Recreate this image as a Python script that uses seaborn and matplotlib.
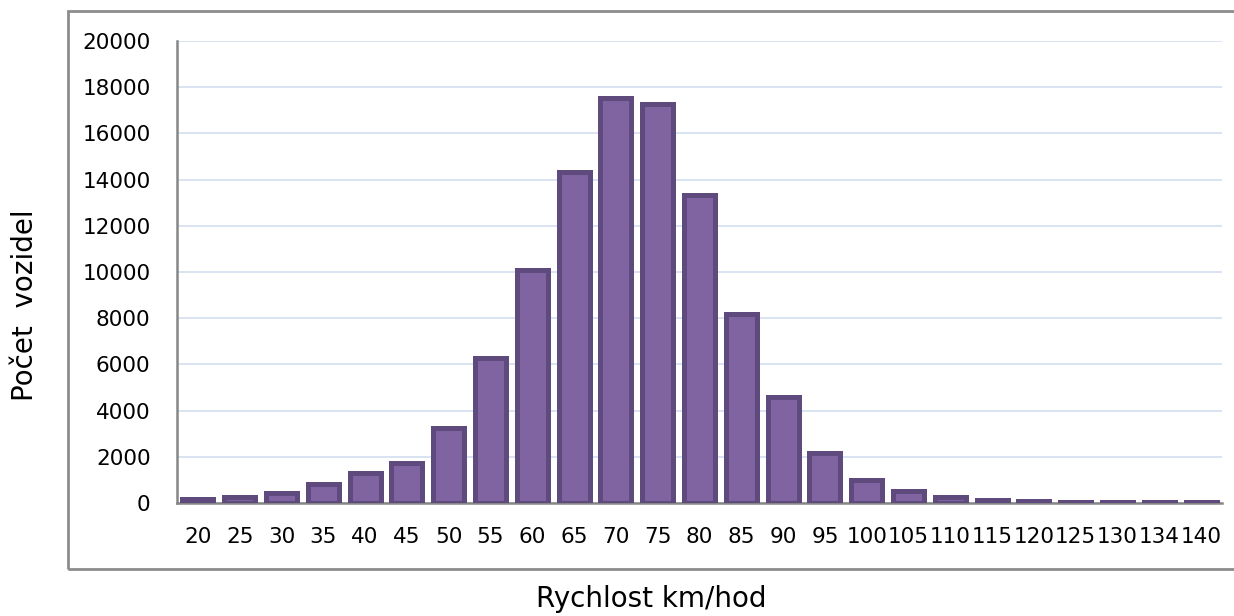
import matplotlib
matplotlib.use("Agg")
import matplotlib.pyplot as plt
import seaborn as sns
import pandas as pd
from matplotlib.patches import Rectangle

speeds = ["20", "25", "30", "35", "40", "45", "50", "55", "60", "65", "70", "75", "80",
          "85", "90", "95", "100", "105", "110", "115", "120", "125", "130", "134", "140"]
counts = [180, 280, 450, 820, 1300, 1720, 3240, 6270, 10080, 14320, 17520, 17260, 13320,
          8170, 4600, 2170, 1000, 500, 280, 150, 100, 60, 50, 40, 40]
y_ticks = [0, 2000, 4000, 6000, 8000, 10000, 12000, 14000, 16000, 18000, 20000]

df = pd.DataFrame({"speed": speeds, "count": counts})

sns.set_theme(style="white")
plt.rcParams["font.family"] = ["DejaVu Sans"]

fig = plt.figure(figsize=(12.34, 6.16), dpi=100)
ax = fig.add_axes([177 / 1234, 1 - 503 / 616, (1222 - 177) / 1234, (503 - 41) / 616])

sns.barplot(data=df, x="speed", y="count", order=speeds, color="#8064A2",
            edgecolor="#5E4A7C", linewidth=3.6, width=0.74, saturation=1, ax=ax, zorder=3)

ax.set_ylim(0, 20000)
ax.set_xlim(-0.5, len(speeds) - 0.5)
ax.set_yticks(y_ticks)
ax.set_yticklabels([str(v) for v in y_ticks], fontsize=15.5, color="black")
ax.yaxis.grid(True, color="#D3DEEF", linewidth=1.2, zorder=0)
ax.set_axisbelow(True)

for s in ["top", "right"]:
    ax.spines[s].set_visible(False)
for s in ["left", "bottom"]:
    ax.spines[s].set_color("#868686")
    ax.spines[s].set_linewidth(1.8)

# x ticks at category boundaries
ax.set_xticks([i for i in range(len(speeds))])
ax.set_xticklabels(speeds, fontsize=15.5, color="black")
ax.tick_params(axis="x", which="major", length=0, pad=17)
ax.set_xticks([i - 0.5 for i in range(len(speeds) + 1)], minor=True)
ax.tick_params(axis="x", which="minor", length=8, width=1.8, color="#868686", direction="out")
ax.tick_params(axis="y", which="major", length=8, width=1.8, color="#868686", direction="out", pad=11)

ax.set_xlabel("")
ax.set_ylabel("")

fig.text(651 / 1234, 1 - 599 / 616, "Rychlost km/hod", ha="center", va="center", fontsize=20, color="black")
fig.text(25 / 1234, 1 - 305 / 616, "Počet  vozidel", ha="center", va="center", rotation=90,
         fontsize=20, color="black")

frame = Rectangle((68 / 1234, 1 - 569 / 616), 1.2, (569 - 11) / 616, transform=fig.transFigure,
                  fill=False, edgecolor="#8C8C8C", linewidth=2, clip_on=False)
fig.patches.append(frame)

fig.savefig("out.png", dpi=100)
